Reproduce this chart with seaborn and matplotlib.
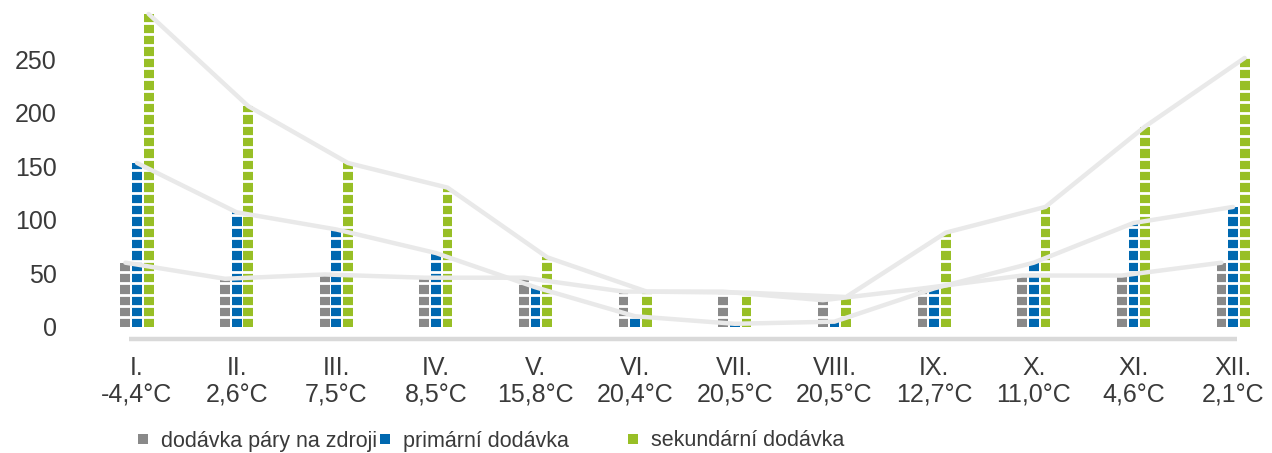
import numpy as np
import pandas as pd
import matplotlib
matplotlib.use("Agg")
import matplotlib.pyplot as plt
from matplotlib.lines import Line2D
import seaborn as sns

# ---- data ----
months = ["I.", "II.", "III.", "IV.", "V.", "VI.", "VII.", "VIII.", "IX.", "X.", "XI.", "XII."]
temps = ["-4,4°C", "2,6°C", "7,5°C", "8,5°C", "15,8°C", "20,4°C",
         "20,5°C", "20,5°C", "12,7°C", "11,0°C", "4,6°C", "2,1°C"]
series_names = ["dodávka páry na zdroji", "primární dodávka", "sekundární dodávka"]
steam_source = [60, 45, 49, 46, 46, 33, 33, 25, 36, 48, 48, 60]
primary = [153, 107, 91, 69, 37, 10, 3, 5, 36, 60, 97, 112]
secondary = [292, 206, 153, 130, 65, 33, 32, 28, 88, 112, 187, 251]
yticks = [0, 50, 100, 150, 200, 250]

colors = {series_names[0]: "#898989", series_names[1]: "#0068b0", series_names[2]: "#98bf26"}
line_color = "#e9e9e9"
text_color = "#3a3a3a"

sns.set_theme(style="white")
plt.rcParams["font.family"] = ["Liberation Sans", "DejaVu Sans"]

labels = [f"{m}\n{t}" for m, t in zip(months, temps)]
df = pd.DataFrame({
    "cat": labels * 3,
    "series": sum([[s] * 12 for s in series_names], []),
    "value": steam_source + primary + secondary,
})

W, H = 1272, 453
fig = plt.figure(figsize=(W / 100, H / 100), dpi=100)
L, R, T, B = 100, 1265, 5, 345
ax = fig.add_axes([L / W, 1 - B / H, (R - L) / W, (B - T) / H])

sns.barplot(data=df, x="cat", y="value", hue="series", hue_order=series_names,
            order=labels, palette=colors, width=0.35, gap=0.16, saturation=1,
            legend=False, ax=ax, zorder=2, linewidth=0)

# pixel mapping: cat x -> 137 + 99.64*x ; value v -> 327 - 1.072*v
ppc = 99.64
ax.set_xlim((L - 137) / ppc, (R - 137) / ppc)
ppu = 1.072
ax.set_ylim((327 - B) / ppu, (327 - T) / ppu)

# square "pictogram" look: white gaps across bars
pitch = 11.33 / ppu
for k in range(1, 30):
    ax.axhline(k * pitch - 1.5, color="white", lw=2.0, zorder=3)

# connecting lines over the bar tops
for cont, vals in zip(ax.containers, [steam_source, primary, secondary]):
    xs = [b.get_x() + b.get_width() / 2 for b in cont]
    ax.plot(xs, vals, color=line_color, lw=3.2, zorder=4, solid_joinstyle="miter")

# baseline band
ax.axhline((327 - 338.5) / ppu, xmin=(129 - L) / (R - L), xmax=(1237 - L) / (R - L),
           color="#d9d9d9", lw=3.2, zorder=1, solid_capstyle="butt")

for s in ax.spines.values():
    s.set_visible(False)
ax.set_xlabel("")
ax.set_ylabel("")
ax.set_yticks(yticks)
ax.set_yticklabels([str(v) for v in yticks])
ax.tick_params(axis="y", length=0, pad=31, labelsize=18, labelcolor=text_color)
ax.tick_params(axis="x", length=0, pad=8, labelsize=18, labelcolor=text_color)
for t in ax.get_xticklabels():
    t.set_linespacing(1.2)
ax.grid(False)

# legend (three equally spaced entries)
for name, xl in zip(series_names, [138, 380, 628]):
    h = Line2D([], [], marker="s", linestyle="none", markersize=7.4,
               markerfacecolor=colors[name], markeredgewidth=0)
    lg = fig.legend([h], [name], loc="center left", bbox_to_anchor=(xl / W, 1 - 441 / H),
                    frameon=False, borderpad=0, borderaxespad=0, handlelength=0.5,
                    handletextpad=0.55, fontsize=15.5, labelcolor=text_color)

fig.savefig("out.png", dpi=100)
